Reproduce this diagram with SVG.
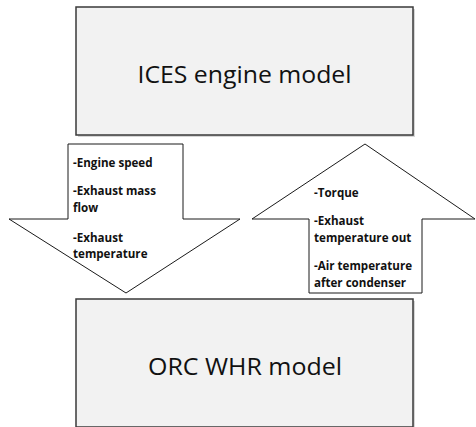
<svg xmlns="http://www.w3.org/2000/svg" width="476" height="427" viewBox="0 0 476 427">
<style>
.box{fill:#f2f2f2;stroke:#3a3a3a;stroke-width:1.5}
.shadow{fill:#d6d6d6}
.arrow{fill:#ffffff;stroke:#1a1a1a;stroke-width:1}
.big{font-family:"Open Sans","Liberation Sans",sans-serif;font-size:24px;fill:#111;text-anchor:middle}
.small{font-family:"Open Sans","Liberation Sans",sans-serif;font-size:11.6px;font-weight:bold;fill:#111}
</style>
<rect width="476" height="427" fill="#ffffff"/>
<g id="ices">
<rect class="shadow" x="78" y="9" width="337" height="128"/>
<rect class="box" x="76" y="7" width="337" height="128"/>
<text class="big" x="244.5" y="83" textLength="214" lengthAdjust="spacingAndGlyphs">ICES engine model</text>
</g>
<g id="orc">
<rect class="shadow" x="78" y="301" width="337" height="128"/>
<rect class="box" x="76" y="299" width="337" height="128"/>
<text class="big" x="245" y="375" textLength="194" lengthAdjust="spacingAndGlyphs">ORC WHR model</text>
</g>
<g id="connectors">
<g id="down-arrow">
<polygon class="arrow" points="68,144 183,144 183,219 240,219 126,293 9,219 68,219"/>
<text class="small" x="73" y="167">-Engine speed</text>
<text class="small" x="73" y="195">-Exhaust mass</text>
<text class="small" x="73" y="212">flow</text>
<text class="small" x="73" y="242">-Exhaust</text>
<text class="small" x="73" y="258">temperature</text>
</g>
<g id="up-arrow">
<polygon class="arrow" points="365,144 475,219 422,219 422,293 309,293 309,219 252,219"/>
<text class="small" x="314" y="197">-Torque</text>
<text class="small" x="314" y="225">-Exhaust</text>
<text class="small" x="314" y="242">temperature out</text>
<text class="small" x="314" y="270">-Air temperature</text>
<text class="small" x="314" y="287">after condenser</text>
</g>
</g>
</svg>
